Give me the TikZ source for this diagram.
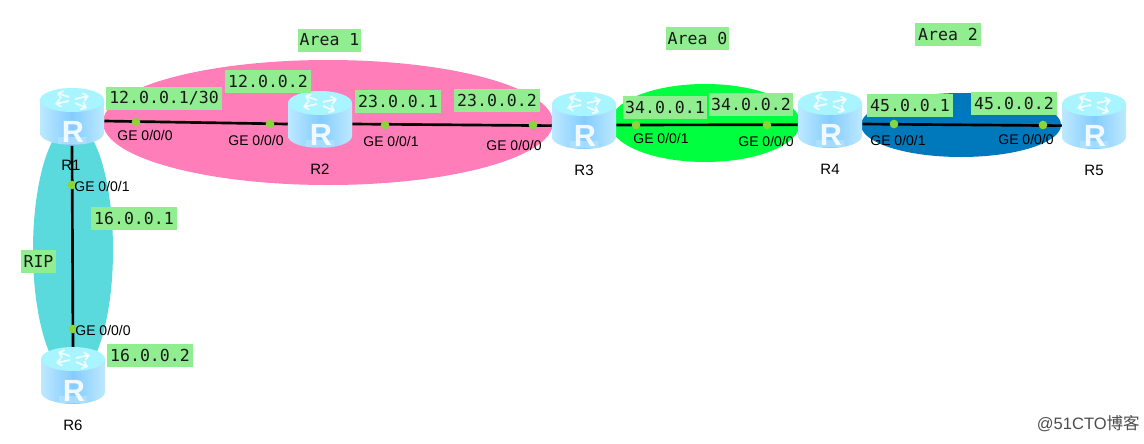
\documentclass[tikz,border=0pt]{standalone}
\usepackage{fontspec}
\setmainfont{Liberation Sans}
\newfontfamily\labmono{DejaVu Sans Mono}
\newfontfamily\cjkfont{Noto Sans CJK SC}
\usetikzlibrary{calc,arrows.meta}
\definecolor{gbox}{HTML}{90EE90}
\definecolor{dotc}{HTML}{8CD43C}
\definecolor{pinkarea}{HTML}{FF7EB9}
\definecolor{cyanarea}{HTML}{5ADADC}
\definecolor{greenarea}{HTML}{00FF3F}
\definecolor{bluearea}{HTML}{0079BC}
\definecolor{rtop}{HTML}{A8F4FF}
\definecolor{rside}{HTML}{84CCFF}
\definecolor{rlight}{HTML}{BDE9FF}
\tikzset{
  x=0.75pt,y=-0.75pt,
  iplabel/.style={fill=gbox,inner sep=0pt,minimum height=17.25pt,minimum width=64.5pt,
     font=\labmono\fontsize{12.4}{14}\selectfont,text=black!90},
  port/.style={inner sep=0pt,font=\fontsize{10.5}{12}\selectfont,text=black},
  rname/.style={inner sep=0pt,font=\fontsize{11.25}{13}\selectfont,text=black},
  routerbox/.style={inner sep=0pt,minimum width=48pt,minimum height=42.75pt},
  link/.style={line width=2pt,black},
  portdot/.style={circle,fill=dotc,inner sep=0pt,minimum size=6.5pt},
  area/.style={draw=none},
  chev/.style={white,opacity=.8,line width=1.4pt,-{Straight Barb[length=3.2pt,width=6pt]}},
}
\newcommand{\routerart}[1]{%
  \begin{scope}[shift={(#1)}]
    \path[left color=rlight,right color=rlight,middle color=rside]
       (-32,-17) -- (-32,16) arc[start angle=180,end angle=360,x radius=32,y radius=-12]
       -- (32,-17) -- cycle;
    \path[fill=rlight,opacity=.55] (-14,26.5) arc[start angle=240,end angle=300,x radius=28,y radius=-5] -- (14,20) -- (-14,20) -- cycle;
    \path[fill=rtop] (0,-17) ellipse[x radius=32,y radius=12];
    \draw[chev] (-3,-20) -- (-15,-24);
    \draw[chev] (3,-18) -- (17,-21);
    \draw[chev] (-3,-16) -- (-17,-13);
    \draw[chev] (3,-14) -- (15,-9);
    \node[inner sep=0pt,text=white,opacity=.88,font=\bfseries\fontsize{23}{24}\selectfont] at (1,15) {R};
  \end{scope}}
\begin{document}
\begin{tikzpicture}
\useasboundingbox (0,0) rectangle (1144,443);
% areas
\path[area,fill=pinkarea] (328,122.5) ellipse[x radius=225,y radius=62.5];
\path[area,fill=cyanarea] (73,250) ellipse[x radius=40,y radius=127];
\path[area,fill=greenarea] (705,123) ellipse[x radius=95,y radius=39];
\path[area,fill=bluearea] (961,125) ellipse[x radius=100,y radius=32];
% routers
\node[routerbox] (R1) at (72,117) {};
\node[routerbox] (R2) at (320,120) {};
\node[routerbox] (R3) at (584,121) {};
\node[routerbox] (R4) at (830,120) {};
\node[routerbox] (R5) at (1094,121) {};
\node[routerbox] (R6) at (73,376) {};
% links
\draw[link] ([yshift=-3pt]R1.east) -- ([yshift=-3pt]R2.west);
\draw[link] ([yshift=-3pt]R2.east) -- ([yshift=-3.5pt]R3.west);
\draw[link] ([yshift=-3pt]R3.east) -- ([yshift=-3.5pt]R4.west);
\draw[link] ([yshift=-3pt]R4.east) -- ([yshift=-3.5pt]R5.west);
\draw[link] (R1.south) -- (R6.north);
\routerart{R1}
\routerart{R2}
\routerart{R3}
\routerart{R4}
\routerart{R5}
\routerart{R6}
% port dots
\foreach \n/\p in {a/{136,122},b/{270,124},c/{385,125},d/{533,125},e/{636,125},f/{767,125},g/{894,124},h/{1043,125},i/{72,185},j/{73,329}}
  \node[portdot] (dot\n) at (\p) {};
% ip labels
\node[iplabel,minimum width=87pt] (l1) at (164,98.5) {12.0.0.1/30};
\node[iplabel] (l2) at (268,81) {12.0.0.2};
\node[iplabel] (l3) at (398,101.5) {23.0.0.1};
\node[iplabel] (l4) at (497,100.5) {23.0.0.2};
\node[iplabel,minimum width=63pt] (l5) at (665,107.5) {34.0.0.1};
\node[iplabel,minimum width=63pt] (l6) at (751,104.5) {34.0.0.2};
\node[iplabel] (l7) at (910,105) {45.0.0.1};
\node[iplabel] (l8) at (1014,103.5) {45.0.0.2};
\node[iplabel] (l9) at (134,218.5) {16.0.0.1};
\node[iplabel] (l10) at (150,355.5) {16.0.0.2};
\node[iplabel,minimum width=47.25pt] (a1) at (329.5,40) {Area 1};
\node[iplabel,minimum width=47.25pt] (a0) at (697.5,38) {Area 0};
\node[iplabel,minimum width=49.5pt] (a2) at (948,34.5) {Area 2};
\node[iplabel,minimum width=26.25pt] (rip) at (38.5,261.5) {RIP};
% port labels
\node[port] (p1) at (145,135) {GE 0/0/0};
\node[port] (p2) at (256,140) {GE 0/0/0};
\node[port] (p3) at (391,141) {GE 0/0/1};
\node[port] (p4) at (514,145) {GE 0/0/0};
\node[port] (p5) at (661,138) {GE 0/0/1};
\node[port] (p6) at (766,141) {GE 0/0/0};
\node[port] (p7) at (898,140) {GE 0/0/1};
\node[port] (p8) at (1026,139) {GE 0/0/0};
\node[port] (p9) at (102,186) {GE 0/0/1};
\node[port] (p10) at (103,330) {GE 0/0/0};
% router names
\node[rname] (n1) at (71,165) {R1};
\node[rname] (n2) at (320,169) {R2};
\node[rname] (n3) at (584,170) {R3};
\node[rname] (n4) at (830,169) {R4};
\node[rname] (n5) at (1094,170) {R5};
\node[rname] (n6) at (73,425) {R6};
% watermark
\node[inner sep=0pt,anchor=east,text=black!70,font=\fontsize{12.4}{14}\selectfont] (wm) at (1140,424) {@51CTO{\cjkfont 博客}};
\end{tikzpicture}
\end{document}
